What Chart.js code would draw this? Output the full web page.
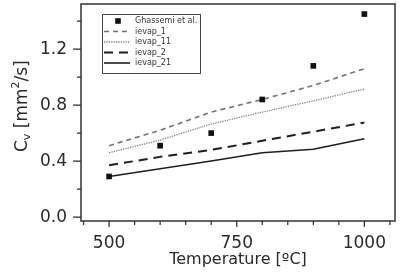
<!DOCTYPE html>
<html>
<head>
<meta charset="utf-8">
<script src="https://cdn.jsdelivr.net/npm/chart.js@4.4.1/dist/chart.umd.min.js"></script>
<style>
  html, body { margin: 0; padding: 0; background: #fff; }
  #wrap { width: 402px; height: 272px; position: relative; }
</style>
</head>
<body>
<div id="wrap"><canvas id="chart"></canvas></div>
<script>
// data
const temps = [500, 600, 700, 800, 900, 1000];
const ghassemi = [0.29, 0.51, 0.60, 0.84, 1.08, 1.45];
const ievap1 = [0.51, 0.62, 0.75, 0.84, 0.94, 1.06];
const ievap11 = [0.46, 0.55, 0.665, 0.75, 0.83, 0.915];
const ievap2 = [0.37, 0.43, 0.48, 0.545, 0.61, 0.675];
const ievap21 = [0.29, 0.345, 0.40, 0.46, 0.485, 0.56];

const xTickLabels = [500, 750, 1000];
const xMinorTicks = [450, 550, 600, 650, 700, 800, 850, 900, 950, 1050];
const yTickLabels = [0.0, 0.4, 0.8, 1.2];
const yMinorTicks = [0.2, 0.6, 1.0, 1.4];

const FONT = 'DejaVu Sans';
const INK = '#2a2a2a';

const pts = arr => temps.map((t, i) => ({ x: t, y: arr[i] }));

// no extra room for half labels at the ends, the plot box is fixed
const noPad = s => { s.paddingTop = 0; s.paddingBottom = 0; s.paddingLeft = 0; s.paddingRight = 0; };

// frame, ticks, legend and y title
const decor = {
    id: 'decor',
    afterDraw(chart) {
        const { ctx, chartArea: a, scales: { x, y } } = chart;
        ctx.save();

        // ticks (outside)
        ctx.strokeStyle = INK;
        ctx.lineWidth = 1.2;
        ctx.beginPath();
        xTickLabels.forEach(v => { const px = x.getPixelForValue(v); ctx.moveTo(px, a.bottom); ctx.lineTo(px, a.bottom + 6); });
        xMinorTicks.forEach(v => { const px = x.getPixelForValue(v); ctx.moveTo(px, a.bottom); ctx.lineTo(px, a.bottom + 4); });
        yTickLabels.forEach(v => { const py = y.getPixelForValue(v); ctx.moveTo(a.left, py); ctx.lineTo(a.left - 8, py); });
        yMinorTicks.forEach(v => { const py = y.getPixelForValue(v); ctx.moveTo(a.left, py); ctx.lineTo(a.left - 4, py); });
        ctx.stroke();

        // frame
        ctx.strokeStyle = '#333';
        ctx.lineWidth = 1.5;
        ctx.strokeRect(a.left, a.top, a.right - a.left, a.bottom - a.top);

        // legend box
        const lx = 102, ly = 14, lw = 98, lh = 59;
        ctx.fillStyle = '#fff';
        ctx.fillRect(lx, ly, lw, lh);
        ctx.strokeStyle = '#444';
        ctx.lineWidth = 1;
        ctx.strokeRect(lx + 0.5, ly + 0.5, lw, lh);

        ctx.font = '8px "' + FONT + '"';
        ctx.textBaseline = 'middle';
        ctx.textAlign = 'left';
        chart.data.datasets.forEach((ds, i) => {
            const ry = 21 + i * 10.5;
            if (ds.showLine === false) {
                ctx.fillStyle = ds.backgroundColor;
                ctx.fillRect(118 - 2.8, ry - 2.8, 5.6, 5.6);
            } else {
                ctx.strokeStyle = ds.borderColor;
                ctx.lineWidth = ds.borderWidth;
                ctx.setLineDash(ds.borderDash || []);
                ctx.beginPath();
                ctx.moveTo(104, ry);
                ctx.lineTo(130, ry);
                ctx.stroke();
                ctx.setLineDash([]);
            }
            ctx.fillStyle = '#333';
            ctx.fillText(ds.label, 135, ry);
        });

        // y axis title: C_v [mm^2/s]
        ctx.translate(27, 152);
        ctx.rotate(-Math.PI / 2);
        ctx.fillStyle = INK;
        ctx.textBaseline = 'alphabetic';
        let cx = 0;
        const part = (txt, size, dy) => {
            ctx.font = size + 'px "' + FONT + '"';
            ctx.fillText(txt, cx, dy);
            cx += ctx.measureText(txt).width;
        };
        part('C', 17, 0);
        part('v', 11, 3);
        part(' [mm', 17, 0);
        part('2', 11, -8);
        part('/s]', 17, 0);

        ctx.restore();
    }
};

new Chart(document.getElementById('chart'), {
    type: 'line',
    data: {
        datasets: [
            { label: 'Ghassemi et al.', data: pts(ghassemi), showLine: false, pointStyle: 'rect', pointRadius: 4, backgroundColor: '#111', borderColor: '#111', borderWidth: 0 },
            { label: 'ievap_1', data: pts(ievap1), borderColor: '#727272', borderWidth: 1.6, borderDash: [5, 4], pointRadius: 0 },
            { label: 'ievap_11', data: pts(ievap11), borderColor: '#7a7a7a', borderWidth: 1.3, borderDash: [1.2, 1.2], pointRadius: 0 },
            { label: 'ievap_2', data: pts(ievap2), borderColor: '#1e1e1e', borderWidth: 2, borderDash: [9, 6], pointRadius: 0 },
            { label: 'ievap_21', data: pts(ievap21), borderColor: '#1e1e1e', borderWidth: 1.6, pointRadius: 0 }
        ]
    },
    options: {
        responsive: true,
        maintainAspectRatio: false,
        animation: false,
        layout: { padding: { top: 3, right: 7, left: 0, bottom: 0 } },
        plugins: { legend: { display: false }, tooltip: { enabled: false } },
        scales: {
            x: {
                type: 'linear', min: 445, max: 1060,
                afterBuildTicks: s => { s.ticks = xTickLabels.map(v => ({ value: v })); },
                afterFit: s => { s.height = 51; noPad(s); },
                grid: { display: false, drawTicks: false },
                border: { display: false },
                ticks: { padding: 12, color: INK, font: { family: FONT, size: 17 }, callback: v => String(v) },
                title: { display: true, text: 'Temperature [ºC]', color: INK, font: { family: FONT, size: 16 }, padding: { top: 0, bottom: 3 } }
            },
            y: {
                min: -0.028, max: 1.522,
                afterBuildTicks: s => { s.ticks = yTickLabels.map(v => ({ value: v })); },
                afterFit: s => { s.width = 81; noPad(s); },
                grid: { display: false, drawTicks: false },
                border: { display: false },
                ticks: { padding: 14, color: INK, font: { family: FONT, size: 17 }, callback: v => v.toFixed(1) }
            }
        }
    },
    plugins: [decor]
});
</script>
</body>
</html>
